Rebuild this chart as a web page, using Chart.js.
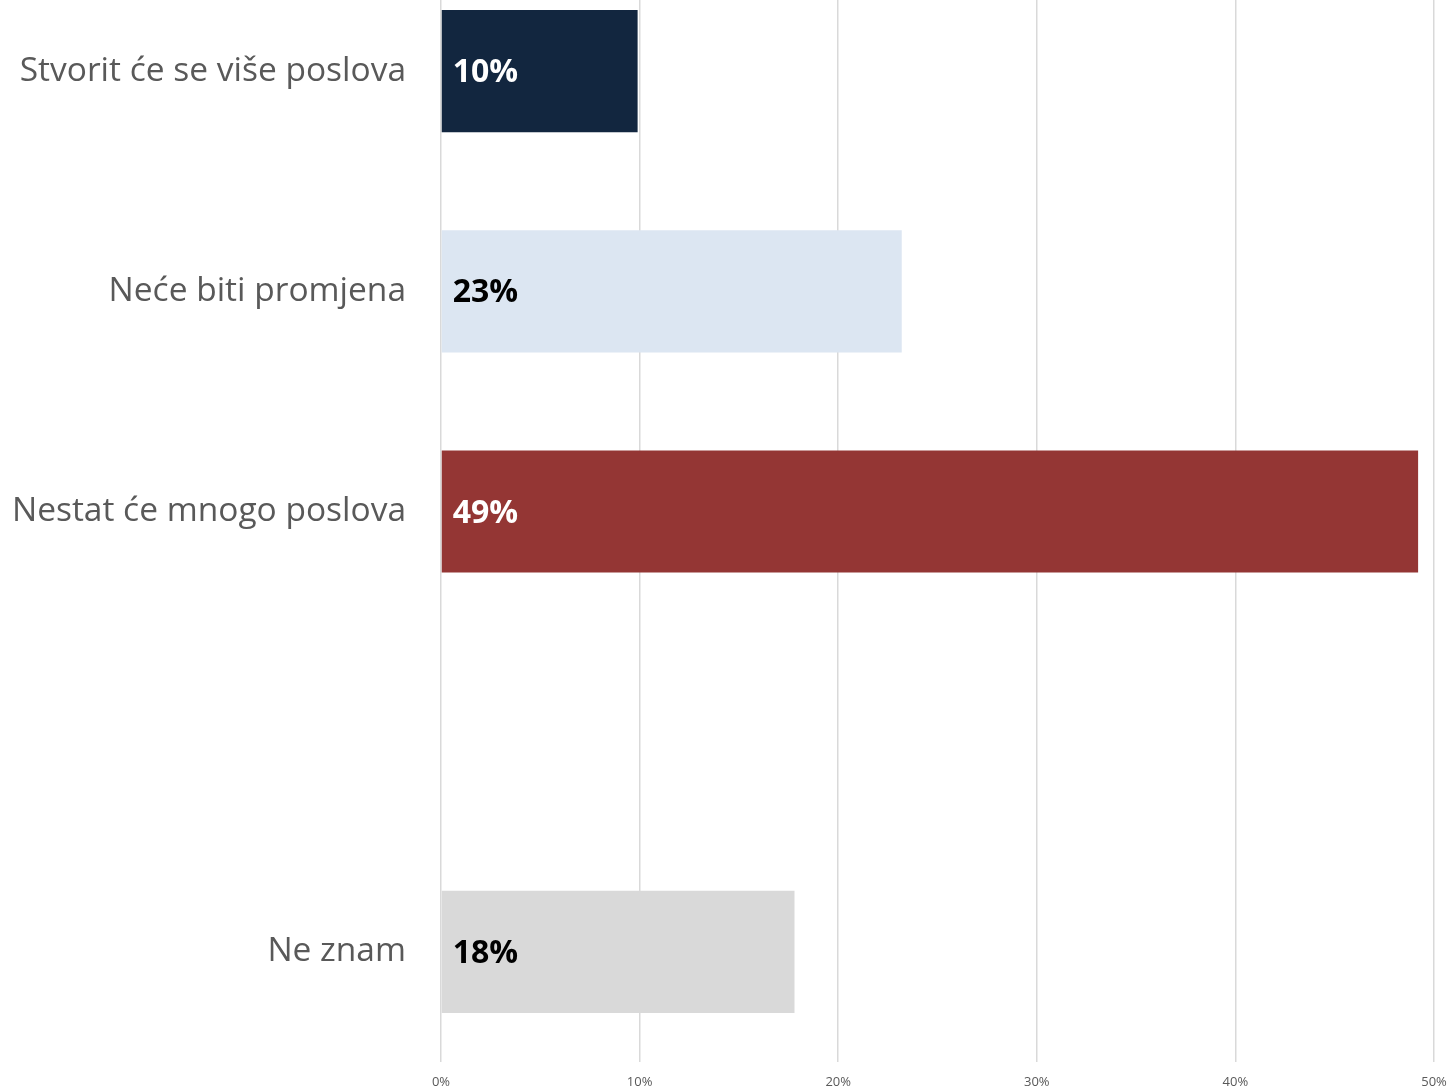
<!DOCTYPE html>
<html>
<head>
<meta charset="utf-8">
<script src="https://cdn.jsdelivr.net/npm/chart.js@4"></script>
<style>
  html, body { margin: 0; padding: 0; background: #fff; overflow: hidden; }
  #wrap { width: 1447px; height: 1127px; margin-top: -39px; position: relative; }
</style>
</head>
<body>
<div id="wrap"><canvas id="grafico"></canvas></div>
<script>
const kategorije = ['Stvorit će se više poslova', 'Neće biti promjena', 'Nestat će mnogo poslova', '', 'Ne znam'];
const vrijednosti = [9.9, 23.2, 49.2, null, 17.8];
const oznake = ['10%', '23%', '49%', '', '18%'];
const boje = ['#12263F', '#DCE6F2', '#943634', '#ffffff', '#D9D9D9'];
const bojeOznaka = ['#ffffff', '#000000', '#ffffff', '#000000', '#000000'];
const xTicks = [0, 10, 20, 30, 40, 50];

const oznakePlugin = {
  id: 'oznake',
  afterDatasetsDraw(chart) {
    const ctx = chart.ctx;
    const meta = chart.getDatasetMeta(0);
    ctx.save();
    ctx.font = 'bold 32px "Open Sans"';
    ctx.textAlign = 'left';
    ctx.textBaseline = 'middle';
    meta.data.forEach((bar, i) => {
      if (vrijednosti[i] == null) return;
      ctx.fillStyle = bojeOznaka[i];
      ctx.fillText(oznake[i], bar.base + 11, bar.y + 2);
    });
    ctx.restore();
  }
};

const $grafico = document.getElementById('grafico');
const grafico = new Chart($grafico, {
  type: 'bar',
  data: {
    labels: kategorije,
    datasets: [{
      data: vrijednosti,
      backgroundColor: boje,
      categoryPercentage: 1,
      barPercentage: 0.555
    }]
  },
  options: {
    indexAxis: 'y',
    responsive: true,
    maintainAspectRatio: false,
    animation: false,
    layout: { padding: 0 },
    plugins: {
      legend: { display: false },
      tooltip: { enabled: false }
    },
    scales: {
      x: {
        min: 0,
        max: 50,
        afterBuildTicks: (scale) => { scale.ticks = xTicks.map(v => ({ value: v })); },
        grid: { color: '#D9D9D9', lineWidth: 1.5, drawTicks: false },
        border: { display: false },
        ticks: {
          color: '#595959',
          font: { family: 'Open Sans', size: 13 },
          padding: 12,
          maxRotation: 0,
          callback: v => v + '%'
        },
        afterFit: (scale) => {
          scale.height = 26;
          scale.paddingLeft = 0;
          scale.paddingRight = 13;
        }
      },
      y: {
        grid: { display: false },
        border: { display: false },
        ticks: {
          color: '#595959',
          font: { family: 'Open Sans', size: 33.5 },
          padding: 27
        },
        afterFit: (scale) => {
          scale.width = 441;
          scale.paddingTop = 0;
          scale.paddingBottom = 0;
        }
      }
    }
  },
  plugins: [oznakePlugin]
});
</script>
</body>
</html>
